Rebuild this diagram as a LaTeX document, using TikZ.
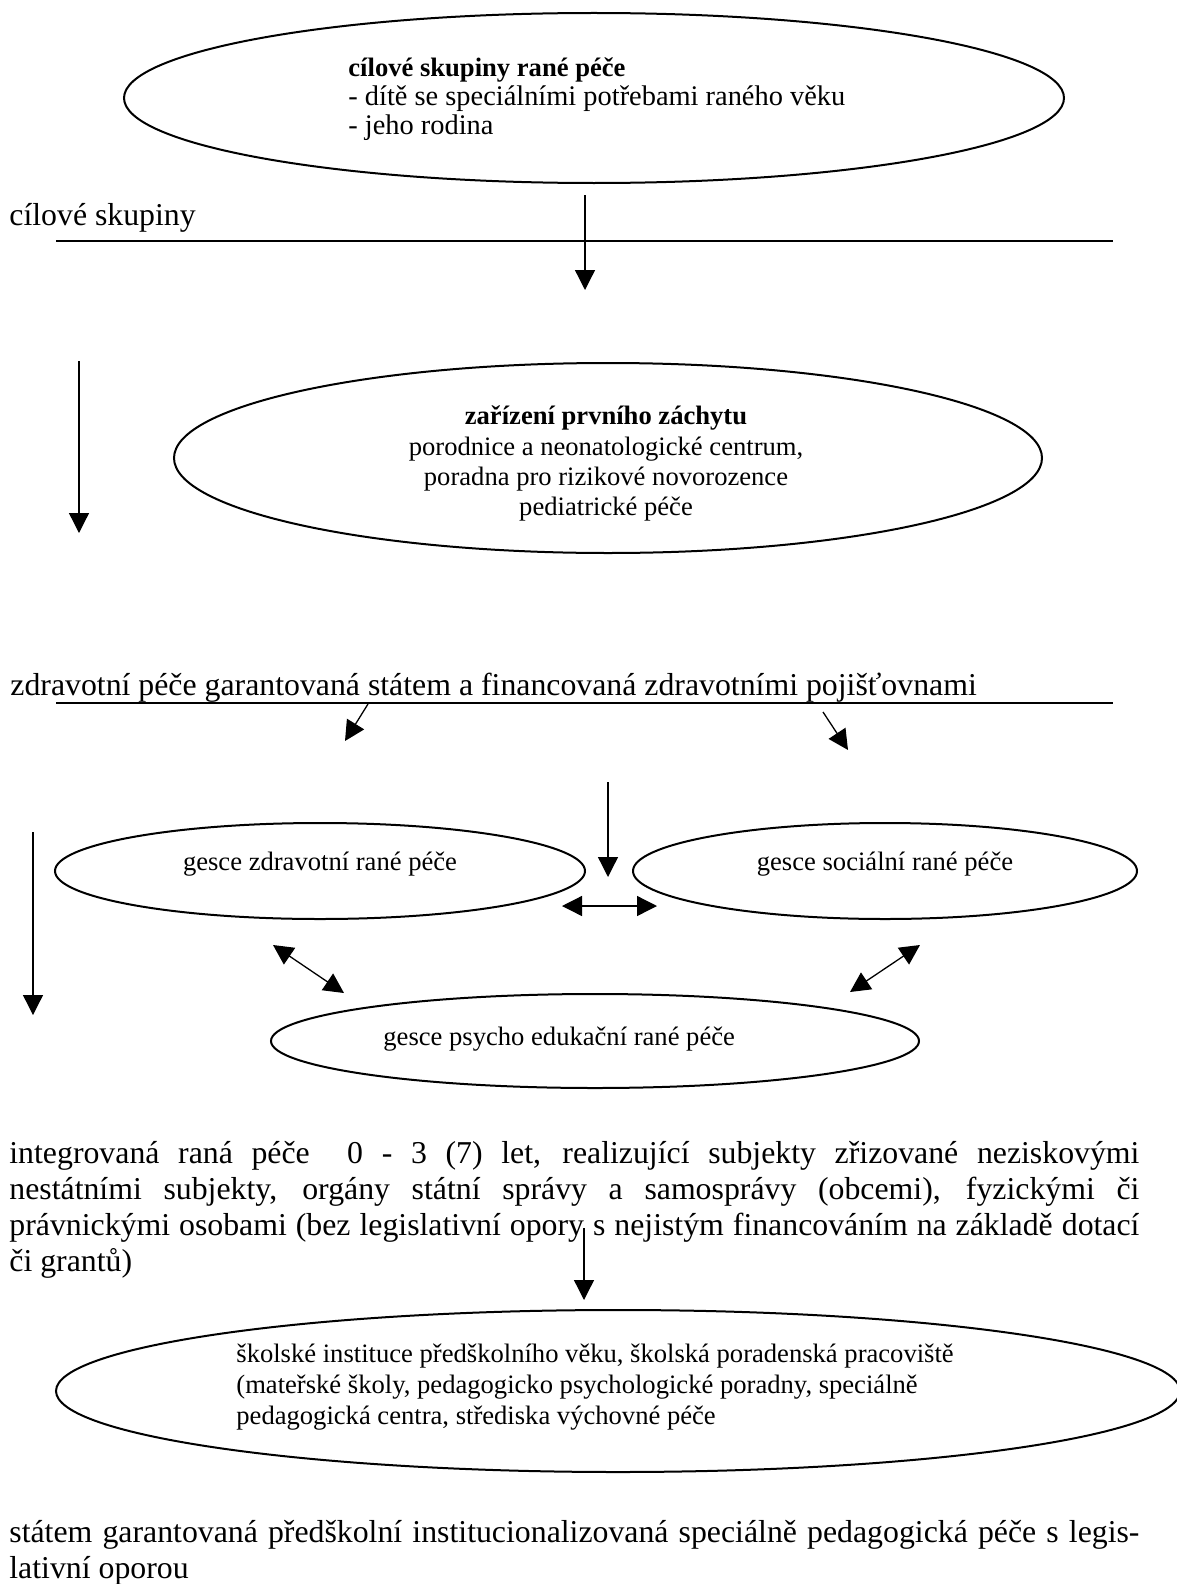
\documentclass[tikz,border=0pt]{standalone}
\usepackage{fontspec}
\setmainfont{Liberation Serif}
\usetikzlibrary{arrows.meta,shapes.geometric}
\begin{document}
\begin{tikzpicture}[x=0.5pt,y=-0.5pt,
  ell/.style={draw,ellipse,line width=1pt,inner sep=0pt},
  arr/.style={line width=0.65pt,-{Triangle[length=10pt,width=10pt]}},
  darr/.style={line width=0.65pt,{Triangle[length=10pt,width=10pt]}-{Triangle[length=10pt,width=10pt]}},
  hline/.style={line width=1pt},
  big/.style={font=\fontsize{15.9}{18}\selectfont, inner sep=0pt},
  small/.style={font=\fontsize{13.3}{15}\selectfont, inner sep=0pt},
  mid/.style={font=\fontsize{14.2}{16}\selectfont, inner sep=0pt},
]
\useasboundingbox (0,0) rectangle (1177,1584);

% ellipses
\node[ell, minimum width=470pt, minimum height=85pt] (e1) at (594,98) {};
\node[ell, minimum width=434pt, minimum height=95pt] (e2) at (608,458) {};
\node[ell, minimum width=265pt, minimum height=48pt] (e3) at (320,871) {};
\node[ell, minimum width=252pt, minimum height=48pt] (e4) at (885,871) {};
\node[ell, minimum width=324pt, minimum height=47pt] (e5) at (595,1041) {};
\node[ell, minimum width=562pt, minimum height=81pt] (e6) at (618,1391) {};

% top ellipse text
\node[small, anchor=base west] (t1a) at (348,76) {\textbf{cílové skupiny rané péče}};
\node[mid, anchor=base west] (t1b) at (348,105) {- dítě se speciálními potřebami raného věku};
\node[mid, anchor=base west] (t1c) at (348,134) {- jeho rodina};

% second ellipse text
\node[small, anchor=base] (t2a) at (606,424) {\textbf{zařízení prvního záchytu}};
\node[small, anchor=base] (t2b) at (606,455) {porodnice a neonatologické centrum,};
\node[small, anchor=base] (t2c) at (606,485) {poradna pro rizikové novorozence};
\node[small, anchor=base] (t2d) at (606,515) {pediatrické péče};

% gesce texts
\node[small, anchor=base] (t3) at (320,870) {gesce zdravotní rané péče};
\node[small, anchor=base] (t4) at (885,870) {gesce sociální rané péče};
\node[small, anchor=base west] (t5) at (383,1045) {gesce psycho edukační rané péče};

% school ellipse text
\node[small, anchor=base west] (t6a) at (236,1362) {školské instituce předškolního věku, školská poradenská pracoviště};
\node[small, anchor=base west] (t6b) at (236,1393) {(mateřské školy, pedagogicko psychologické poradny, speciálně};
\node[small, anchor=base west] (t6c) at (236,1424) {pedagogická centra, střediska výchovné péče};

% free texts
\node[big, anchor=base west] (l1) at (9,225) {cílové skupiny};
\node[big, anchor=base west] (l2) at (10,695) {zdravotní péče garantovaná státem a financovaná zdravotními pojišťovnami};

\node[big, anchor=base west] (p1) at (9,1163) {\makebox[565pt][s]{integrovaná raná péče\ \ 0 - 3 (7) let, realizující subjekty zřizované neziskovými}};
\node[big, anchor=base west] (p2) at (9,1199) {\makebox[565pt][s]{nestátními subjekty, orgány státní správy a samosprávy (obcemi), fyzickými či}};
\node[big, anchor=base west] (p3) at (9,1235) {\makebox[565pt][s]{právnickými osobami (bez legislativní opory s nejistým financováním na základě dotací}};
\node[big, anchor=base west] (p4) at (9,1271) {či grantů)};

\node[big, anchor=base west] (q1) at (9,1542) {\makebox[565pt][s]{státem garantovaná předškolní institucionalizovaná speciálně pedagogická péče s legis-}};
\node[big, anchor=base west] (q2) at (9,1578) {lativní oporou};

% horizontal lines
\coordinate (h1a) at (56,241); \coordinate (h1b) at (1113,241);
\coordinate (h2a) at (56,703); \coordinate (h2b) at (1113,703);
\draw[hline] (h1a) -- (h1b);
\draw[hline] (h2a) -- (h2b);

% arrows
\coordinate (a1s) at (585,195); \coordinate (a1e) at (585,290);
\coordinate (a2s) at (79,361);  \coordinate (a2e) at (79,533);
\coordinate (a3s) at (368,704); \coordinate (a3e) at (345,741);
\coordinate (a4s) at (823,712); \coordinate (a4e) at (848,750);
\coordinate (a5s) at (608,782); \coordinate (a5e) at (608,877);
\coordinate (a6s) at (562,906); \coordinate (a6e) at (657,906);
\coordinate (a7s) at (273,945); \coordinate (a7e) at (344,993);
\coordinate (a8s) at (920,945); \coordinate (a8e) at (850,992);
\coordinate (a9s) at (33,832);  \coordinate (a9e) at (33,1015);
\coordinate (a10s) at (584,1228); \coordinate (a10e) at (584,1300);

\draw[arr] (a1s) -- (a1e);
\draw[arr] (a2s) -- (a2e);
\draw[arr] (a3s) -- (a3e);
\draw[arr] (a4s) -- (a4e);
\draw[arr] (a5s) -- (a5e);
\draw[darr] (a6s) -- (a6e);
\draw[darr] (a7s) -- (a7e);
\draw[darr] (a8s) -- (a8e);
\draw[arr] (a9s) -- (a9e);
\draw[arr] (a10s) -- (a10e);
\end{tikzpicture}
\end{document}
